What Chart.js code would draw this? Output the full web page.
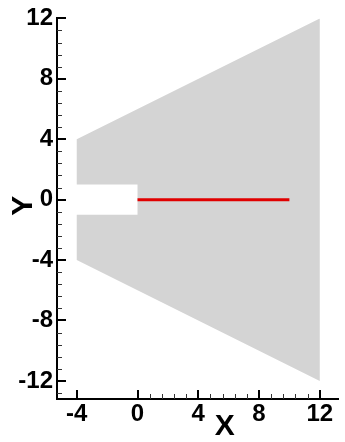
<!DOCTYPE html>
<html>
<head>
<meta charset="utf-8">
<script src="https://cdn.jsdelivr.net/npm/chart.js@4"></script>
<style>
  html, body { margin: 0; padding: 0; background: #fff; }
  #wrap { width: 345px; height: 442px; position: relative; }
</style>
</head>
<body>
<div id="wrap"><canvas id="c"></canvas></div>
<script>
// Domain outline (gray region with a rectangular notch on the left side)
const regionX = [-4, 12, 12, -4, -4, 0, 0, -4, -4];
const regionY = [4, 12, -12, -4, -1, -1, 1, 1, 4];

// Crack segment
const crackX = [0, 10];
const crackY = [0, 0];

// Axis ticks
const xMajorTicks = [-4, 0, 4, 8, 12];
const yMajorTicks = [-12, -8, -4, 0, 4, 8, 12];
const minorStep = 0.8;

// Axis ranges
const xRange = [-5.3, 13.2];
const yRange = [-13.2, 12];

const toPoints = (xs, ys) => xs.map((x, i) => ({ x: x, y: ys[i] }));

const FONT = "'Liberation Sans', Arial, Helvetica, sans-serif";

// Inward-pointing major/minor tick marks and axis titles
const axisDecor = {
  id: 'axisDecor',
  afterDraw(chart) {
    const { ctx, chartArea, scales } = chart;
    const xs = scales.x, ys = scales.y;
    ctx.save();
    ctx.strokeStyle = '#000';

    const minorsOf = (majors, extraBelow) => {
      const out = [];
      for (let i = 0; i < majors.length - 1; i++) {
        for (let k = 1; k < 5; k++) out.push(majors[i] + k * minorStep);
      }
      if (extraBelow) out.push(majors[0] - minorStep);
      return out;
    };

    // y axis
    ctx.lineWidth = 2;
    yMajorTicks.forEach(v => {
      const p = Math.round(ys.getPixelForValue(v));
      ctx.beginPath();
      ctx.moveTo(chartArea.left, p);
      ctx.lineTo(chartArea.left + 9, p);
      ctx.stroke();
    });
    ctx.lineWidth = 1;
    ctx.strokeStyle = '#333';
    minorsOf(yMajorTicks, true).forEach(v => {
      const p = Math.round(ys.getPixelForValue(v)) + 0.5;
      ctx.beginPath();
      ctx.moveTo(chartArea.left, p);
      ctx.lineTo(chartArea.left + 5, p);
      ctx.stroke();
    });

    // x axis
    ctx.strokeStyle = '#000';
    ctx.lineWidth = 2;
    xMajorTicks.forEach(v => {
      const p = Math.round(xs.getPixelForValue(v));
      ctx.beginPath();
      ctx.moveTo(p, chartArea.bottom);
      ctx.lineTo(p, chartArea.bottom - 9);
      ctx.stroke();
    });
    ctx.lineWidth = 1;
    ctx.strokeStyle = '#333';
    minorsOf(xMajorTicks.slice(1), false).forEach(v => {
      const p = Math.round(xs.getPixelForValue(v)) + 0.5;
      ctx.beginPath();
      ctx.moveTo(p, chartArea.bottom);
      ctx.lineTo(p, chartArea.bottom - 5);
      ctx.stroke();
    });

    // titles
    ctx.fillStyle = '#000';
    ctx.font = 'bold 30px ' + FONT;
    ctx.textAlign = 'center';
    ctx.textBaseline = 'middle';
    ctx.fillText('X', chartArea.left + (chartArea.right - chartArea.left) * 0.597, chart.height - 15);
    ctx.translate(24, (chartArea.top + chartArea.bottom) / 2 - 3);
    ctx.rotate(-Math.PI / 2);
    ctx.fillText('Y', 0, 0);
    ctx.restore();
  }
};

new Chart(document.getElementById('c'), {
  type: 'scatter',
  data: {
    datasets: [
      {
        data: toPoints(regionX, regionY),
        showLine: true,
        fill: 'shape',
        backgroundColor: '#d4d4d4',
        borderWidth: 0,
        borderColor: 'rgba(0,0,0,0)',
        pointRadius: 0,
        tension: 0,
        order: 2
      },
      {
        data: toPoints(crackX, crackY),
        showLine: true,
        fill: false,
        borderColor: '#e00000',
        borderWidth: 3,
        pointRadius: 0,
        order: 1
      }
    ]
  },
  options: {
    responsive: true,
    maintainAspectRatio: false,
    animation: false,
    layout: { padding: { top: 16, right: 7, left: 0, bottom: 0 } },
    plugins: { legend: { display: false }, tooltip: { enabled: false } },
    scales: {
      x: {
        type: 'linear',
        min: xRange[0],
        max: xRange[1],
        afterBuildTicks: s => { s.ticks = xMajorTicks.map(v => ({ value: v })); },
        afterFit: s => { s.height = 43; },
        grid: { display: false, drawTicks: false },
        border: { display: true, color: '#000', width: 2 },
        ticks: {
          color: '#000',
          padding: 1,
          maxRotation: 0,
          autoSkip: false,
          font: { family: FONT, size: 24, weight: 'bold' }
        }
      },
      y: {
        type: 'linear',
        min: yRange[0],
        max: yRange[1],
        afterBuildTicks: s => { s.ticks = yMajorTicks.map(v => ({ value: v })); },
        afterFit: s => { s.width = 57; },
        grid: { display: false, drawTicks: false },
        border: { display: true, color: '#000', width: 2 },
        ticks: {
          color: '#000',
          padding: 4,
          autoSkip: false,
          font: { family: FONT, size: 24, weight: 'bold' }
        }
      }
    }
  },
  plugins: [axisDecor]
});
</script>
</body>
</html>
